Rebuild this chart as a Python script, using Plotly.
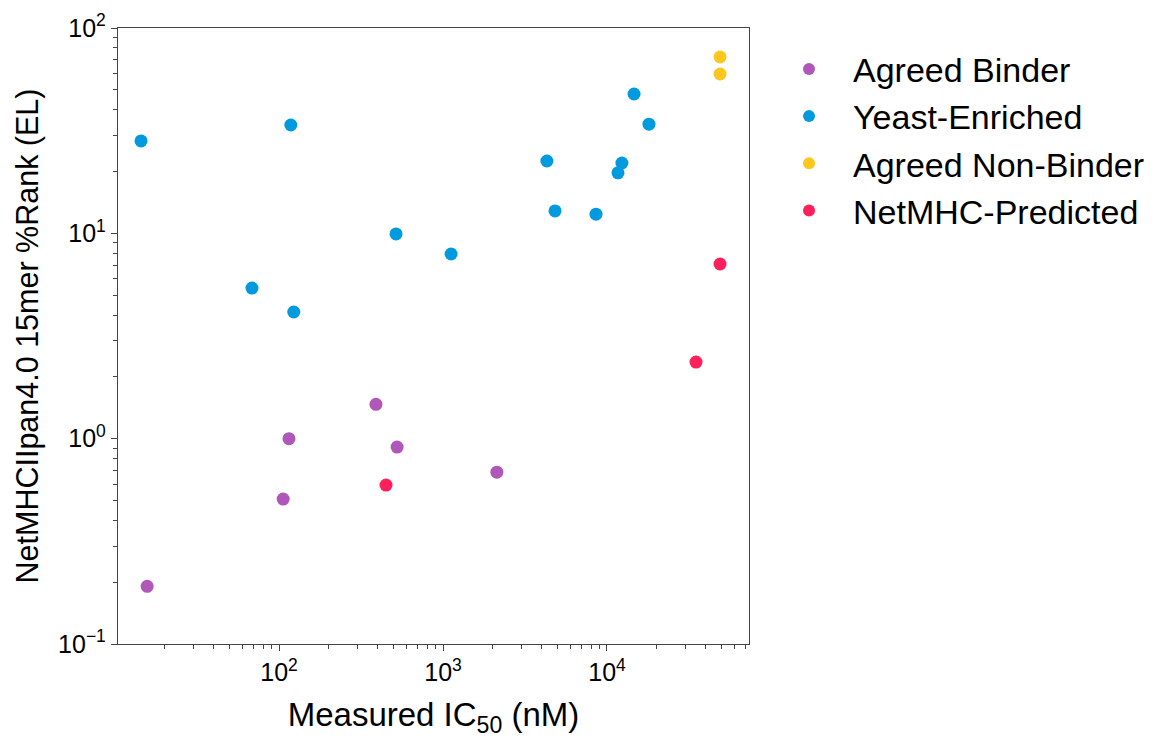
import numpy as np
import plotly.graph_objects as go

# ---- data ----
binder_ic50 = [15.7, 106, 115, 390, 525, 2130]
binder_rank = [0.191, 0.508, 1.0, 1.47, 0.91, 0.687]

yeast_ic50 = [14.4, 118, 68.4, 123, 517, 1120, 4300, 4820, 8570, 12330, 11670, 14620, 18030]
yeast_rank = [28.2, 33.7, 5.41, 4.14, 9.93, 7.93, 22.5, 12.85, 12.4, 22.0, 19.7, 47.7, 34.0]

nonbinder_ic50 = [48900, 48900]
nonbinder_rank = [72.3, 59.7]

netmhc_ic50 = [449, 34900, 48900]
netmhc_rank = [0.594, 2.36, 7.09]

series_names = ["Agreed Binder", "Yeast-Enriched", "Agreed Non-Binder", "NetMHC-Predicted"]
series_colors = ["#AF58BA", "#009ADE", "#FFC61E", "#FF1F5B"]

x_tickvals = [100, 1000, 10000]
x_ticktext = ["10<sup>2</sup>", "10<sup>3</sup>", "10<sup>4</sup>"]
y_tickvals = [0.1, 1, 10, 100]
y_ticktext = ["10<sup>\u22121</sup>", "10<sup>0</sup>", "10<sup>1</sup>", "10<sup>2</sup>"]

FONT = "Liberation Sans, Arial, Helvetica, sans-serif"


def minor_vals(lo_exp, hi_exp):
    vals = []
    for e in range(lo_exp, hi_exp + 1):
        for m in range(2, 10):
            vals.append(m * 10 ** e)
    return vals


fig = go.Figure()
data = [
    (binder_ic50, binder_rank),
    (yeast_ic50, yeast_rank),
    (nonbinder_ic50, nonbinder_rank),
    (netmhc_ic50, netmhc_rank),
]
for (xs, ys), name, col in zip(data, series_names, series_colors):
    fig.add_trace(go.Scatter(
        x=xs, y=ys, mode="markers", name=name,
        marker=dict(color=col, size=13, line=dict(width=0)),
    ))

axis_common = dict(
    type="log", automargin=False,
    showline=True, mirror=True, linecolor="#444444", linewidth=1.3,
    ticks="outside", ticklen=6, tickwidth=1.2, tickcolor="#444444",
    showgrid=False, zeroline=False,
    tickfont=dict(family=FONT, size=25, color="black"),
    tickmode="array",
)

fig.update_xaxes(
    **axis_common,
    range=[1.018, 4.866],
    tickvals=x_tickvals, ticktext=x_ticktext,
    minor=dict(tickmode="array", tickvals=minor_vals(1, 4), ticks="outside",
               ticklen=3.5, tickwidth=1, tickcolor="#444444", showgrid=False),
    title=dict(text="Measured IC<sub>50</sub> (nM)",
               font=dict(family=FONT, size=33, color="black"), standoff=17),
)
fig.update_yaxes(
    **axis_common,
    range=[-1, 2],
    tickvals=y_tickvals, ticktext=y_ticktext,
    minor=dict(tickmode="array", tickvals=minor_vals(-1, 1), ticks="outside",
               ticklen=3.5, tickwidth=1, tickcolor="#444444", showgrid=False),
    title=dict(text="NetMHCIIpan4.0 15mer %Rank (EL)",
               font=dict(family=FONT, size=30.5, color="black"), standoff=10),
)

fig.update_layout(
    width=1175, height=742,
    margin=dict(l=110, r=434, t=20, b=106),
    plot_bgcolor="white", paper_bgcolor="white",
    font=dict(family=FONT, color="black"),
    legend=dict(
        x=1.0254, y=0.98, xanchor="left", yanchor="top",
        font=dict(family=FONT, size=34, color="black"),
        bgcolor="rgba(0,0,0,0)", borderwidth=0,
        itemsizing="constant", itemwidth=78,
    ),
)

fig.write_html("out.html")
